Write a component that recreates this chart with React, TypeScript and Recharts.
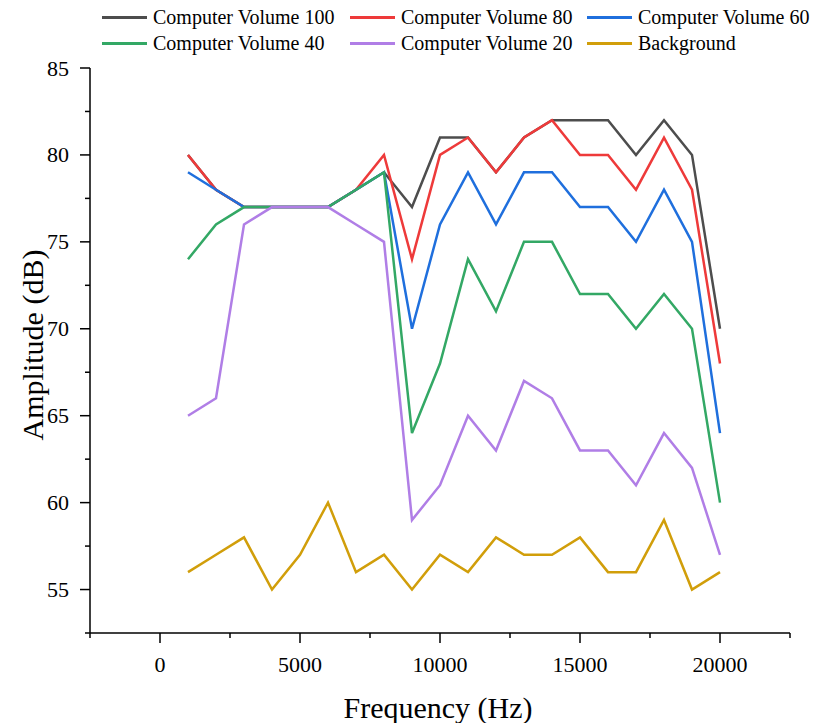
import React from 'react'
import { LineChart, Line, XAxis, YAxis } from 'recharts'

const frequencies = [1000, 2000, 3000, 4000, 5000, 6000, 7000, 8000, 9000, 10000, 11000, 12000, 13000, 14000, 15000, 16000, 17000, 18000, 19000, 20000]
const volume100 = [80, 78, 77, 77, 77, 77, 78, 79, 77, 81, 81, 79, 81, 82, 82, 82, 80, 82, 80, 70]
const volume80 = [80, 78, 77, 77, 77, 77, 78, 80, 74, 80, 81, 79, 81, 82, 80, 80, 78, 81, 78, 68]
const volume60 = [79, 78, 77, 77, 77, 77, 78, 79, 70, 76, 79, 76, 79, 79, 77, 77, 75, 78, 75, 64]
const volume40 = [74, 76, 77, 77, 77, 77, 78, 79, 64, 68, 74, 71, 75, 75, 72, 72, 70, 72, 70, 60]
const volume20 = [65, 66, 76, 77, 77, 77, 76, 75, 59, 61, 65, 63, 67, 66, 63, 63, 61, 64, 62, 57]
const background = [56, 57, 58, 55, 57, 60, 56, 57, 55, 57, 56, 58, 57, 57, 58, 56, 56, 59, 55, 56]

const xTicks = [-2500, 0, 2500, 5000, 7500, 10000, 12500, 15000, 17500, 20000, 22500]
const yTicks = [52.5, 55, 57.5, 60, 62.5, 65, 67.5, 70, 72.5, 75, 77.5, 80, 82.5, 85]

const series = [
    { key: 'v100', name: 'Computer Volume 100', color: '#4d4d4d' },
    { key: 'v80', name: 'Computer Volume 80', color: '#ee3a3a' },
    { key: 'v60', name: 'Computer Volume 60', color: '#1f6fdd' },
    { key: 'v40', name: 'Computer Volume 40', color: '#33a865' },
    { key: 'v20', name: 'Computer Volume 20', color: '#b07ee6' },
    { key: 'bg', name: 'Background', color: '#d19e0a' },
]

const data = frequencies.map((f, i) => ({
    f,
    v100: volume100[i],
    v80: volume80[i],
    v60: volume60[i],
    v40: volume40[i],
    v20: volume20[i],
    bg: background[i],
}))

const font = '"Liberation Serif", "Times New Roman", serif'

function YTick(props: any) {
    const { x, y, payload } = props
    const v = payload.value
    const major = v % 5 === 0
    return (
        <g>
            <line x1={x} x2={x - (major ? 10 : 5)} y1={y} y2={y} stroke="#000" strokeWidth={1.5} />
            {major && (
                <text x={x - 21} y={y} textAnchor="end" dominantBaseline="central" fontSize={22} fontFamily={font} fill="#000">
                    {v}
                </text>
            )}
        </g>
    )
}

function XTick(props: any) {
    const { x, y, payload } = props
    const v = payload.value
    const major = v % 5000 === 0
    return (
        <g>
            <line x1={x} x2={x} y1={y} y2={y + (major ? 10 : 5)} stroke="#000" strokeWidth={1.5} />
            {major && (
                <text x={x} y={y + 31} textAnchor="middle" dominantBaseline="central" fontSize={22} fontFamily={font} fill="#000">
                    {v}
                </text>
            )}
        </g>
    )
}

const legendCols = [102, 350, 587]

export default function App() {
    return (
        <div style={{ position: 'relative', width: 812, height: 715, fontFamily: font }}>
            {series.map((s, i) => {
                const col = i % 3
                const row = Math.floor(i / 3)
                return (
                    <div key={s.key} style={{ position: 'absolute', left: legendCols[col] - 8, top: (row === 0 ? 17 : 43) - 8 - 12, height: 24, display: 'flex', alignItems: 'center', whiteSpace: 'nowrap' }}>
                        <div style={{ width: 45, height: 3, background: s.color, marginRight: 6 }} />
                        <span style={{ fontSize: 20, color: '#000' }}>{s.name}</span>
                    </div>
                )
            })}
            <div style={{ position: 'absolute', left: 438 - 8 - 150, width: 300, top: 708 - 8 - 18, textAlign: 'center', fontSize: 30, lineHeight: '36px' }}>
                Frequency (Hz)
            </div>
            <div style={{ position: 'absolute', left: 33 - 8 - 150, top: 345 - 8 - 18, width: 300, textAlign: 'center', fontSize: 30, lineHeight: '36px', transform: 'rotate(-90deg)' }}>
                Amplitude (dB)
            </div>
            <div style={{ position: 'absolute', left: 0, top: 0 }}>
                <LineChart width={812} height={715} data={data} margin={{ top: 60, right: 30, bottom: 0, left: 0 }}>
                    <XAxis
                        dataKey="f"
                        type="number"
                        domain={[-2500, 22500]}
                        ticks={xTicks}
                        interval={0}
                        height={90}
                        tickSize={0}
                        tickMargin={0}
                        tickLine={false}
                        tick={<XTick />}
                        axisLine={{ stroke: '#000', strokeWidth: 1.5 }}
                    />
                    <YAxis
                        type="number"
                        domain={[52.5, 85]}
                        ticks={yTicks}
                        interval={0}
                        width={82}
                        tickSize={0}
                        tickMargin={0}
                        tickLine={false}
                        tick={<YTick />}
                        axisLine={{ stroke: '#000', strokeWidth: 1.5 }}
                    />
                    {series.map((s) => (
                        <Line
                            key={s.key}
                            type="linear"
                            dataKey={s.key}
                            name={s.name}
                            stroke={s.color}
                            strokeWidth={2.5}
                            dot={false}
                            isAnimationActive={false}
                        />
                    ))}
                </LineChart>
            </div>
        </div>
    )
}
